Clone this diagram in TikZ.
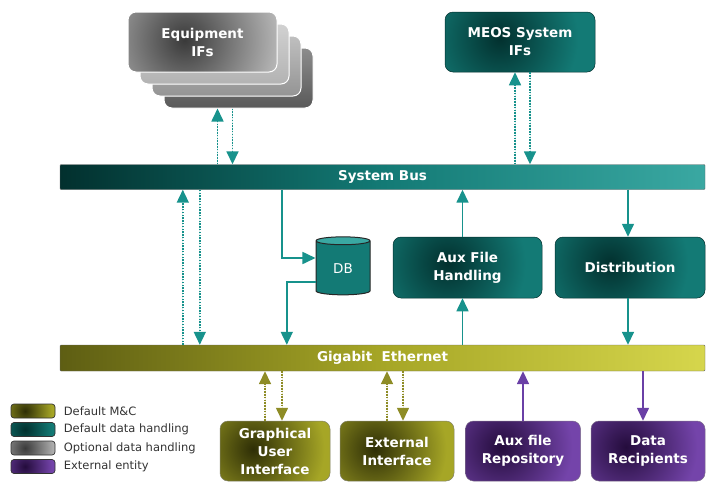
\documentclass[tikz,border=0pt]{standalone}
\usepackage{fontspec}
\setmainfont{DejaVu Sans}
\usepackage{tikz}
\usetikzlibrary{arrows.meta,positioning,calc,shapes.geometric}
\definecolor{mcTeal}{HTML}{137A75}
\definecolor{mcTealD}{HTML}{02302E}
\definecolor{mcTealL}{HTML}{3AA8A2}
\definecolor{mcTealA}{HTML}{17928C}
\definecolor{mcOlive}{HTML}{A6A626}
\definecolor{mcOliveD}{HTML}{2E2E06}
\definecolor{mcOliveL}{HTML}{D6D64C}
\definecolor{mcOliveA}{HTML}{8E8C26}
\definecolor{mcPurple}{HTML}{7444AA}
\definecolor{mcPurpleD}{HTML}{240C3C}
\definecolor{mcPurpleA}{HTML}{6A40A6}
\definecolor{mcGray}{HTML}{BDBDBD}
\definecolor{mcGrayD}{HTML}{3A3A3A}
\newcommand{\boxfont}{\bfseries\fontsize{13.5}{18}\selectfont}
% dark spot shadings, fading out well inside the circle
\pgfdeclareradialshading{tealspot}{\pgfpointorigin}{color(0bp)=(mcTealD); color(17bp)=(mcTeal); color(50bp)=(mcTeal)}
\pgfdeclareradialshading{olivespot}{\pgfpointorigin}{color(0bp)=(mcOliveD); color(17bp)=(mcOlive); color(50bp)=(mcOlive)}
\pgfdeclareradialshading{purplespot}{\pgfpointorigin}{color(0bp)=(mcPurpleD); color(17bp)=(mcPurple); color(50bp)=(mcPurple)}
\pgfdeclareradialshading{grayspot}{\pgfpointorigin}{color(0bp)=(mcGrayD); color(20bp)=(mcGray); color(50bp)=(mcGray)}
\tikzset{
  arrt/.style={-{Triangle[length=13pt,width=12pt]}, line width=1.6pt, draw=mcTealA, fill=mcTealA},
  arrtd/.style={arrt, dash pattern=on 1.5pt off 1.3pt},
  arro/.style={-{Triangle[length=13pt,width=12pt]}, line width=1.6pt, draw=mcOliveA, fill=mcOliveA, dash pattern=on 1.5pt off 1.3pt},
  arrp/.style={-{Triangle[length=13pt,width=12pt]}, line width=1.6pt, draw=mcPurpleA, fill=mcPurpleA},
  basebox/.style={rounded corners=8pt, align=center, text=white, font=\boxfont, line width=0.5pt, inner sep=3pt},
  tealbox/.style={basebox, draw=mcTealD, path picture={\shade[shading=tealspot] ([xshift=-20pt,yshift=4pt]path picture bounding box.center) circle (115pt);}},
  olivebox/.style={basebox, draw=mcOliveD!60, path picture={\shade[shading=olivespot] ([xshift=-22pt,yshift=2pt]path picture bounding box.center) circle (105pt);}},
  purplebox/.style={basebox, draw=mcPurpleD!60, path picture={\shade[shading=purplespot] ([xshift=-22pt,yshift=4pt]path picture bounding box.center) circle (105pt);}},
  graybox/.style={basebox, draw=white, line width=1pt, minimum width=149pt, minimum height=60pt, path picture={\shade[shading=grayspot] ([xshift=-18pt,yshift=2pt]path picture bounding box.center) circle (125pt);}},
  backbox/.style 2 args={graybox, path picture={\shade[top color=#1, bottom color=#2] (path picture bounding box.south west) rectangle (path picture bounding box.north east);}},
  busbar/.style={rounded corners=1pt, text=white, font=\boxfont, minimum width=645pt, draw=black!60, line width=0.4pt},
  swatch/.style={rounded corners=3pt, minimum width=44pt, minimum height=14pt, draw=black!80, line width=0.7pt, path picture={\shade[shading=#1] ([xshift=-8pt]path picture bounding box.center) circle (40pt);}},
  legtext/.style={anchor=west, font=\fontsize{11.5}{13}\selectfont, text=black!80}
}
\begin{document}
\begin{tikzpicture}[x=1pt,y=-1pt]
  \useasboundingbox (0,0) rectangle (707,483);

  % top interfaces
  \node[backbox={black!45}{black!65}] (eq4) at (238.5,78) {};
  \node[backbox={black!25}{black!42}] (eq3) at (226.5,66) {};
  \node[backbox={black!18}{black!30}] (eq2) at (214.5,54) {};
  \node[graybox] (eq1) at (202.5,42) {Equipment\\IFs};
  \node[tealbox, minimum width=150pt, minimum height=60pt] (meos) at (520,42) {MEOS System\\IFs};

  % buses
  \node[busbar, minimum height=25pt, left color=mcTealD, right color=mcTealL, middle color=mcTeal] (sysbus) at (382.5,177) {System Bus};
  \node[busbar, minimum height=26pt, left color=mcOliveD!60!mcOlive, right color=mcOliveL, middle color=mcOlive] (giga) at (382.5,358) {Gigabit\ \ Ethernet};

  \draw[arrtd] ([xshift=-21pt]eq4.south |- sysbus.north) -- ([xshift=-21pt]eq4.south);
  \draw[arrtd] ([xshift=-6pt]eq4.south) -- ([xshift=-6pt]eq4.south |- sysbus.north);
  \draw[arrtd] ([xshift=-5pt]meos.south |- sysbus.north) -- ([xshift=-5pt]meos.south);
  \draw[arrtd] ([xshift=10pt]meos.south) -- ([xshift=10pt]meos.south |- sysbus.north);

  % data handling
  \node[cylinder, shape border rotate=90, aspect=0.3, minimum width=54pt, minimum height=58pt, draw=black!85, line width=1pt, cylinder uses custom fill, cylinder body fill=mcTeal, cylinder end fill=mcTealL, text=white, font=\fontsize{13.5}{16}\selectfont] (db) at (343,269) {DB};
  \node[tealbox, minimum width=149pt, minimum height=61pt] (auxh) at (467.5,267.5) {Aux File\\Handling};
  \node[tealbox, minimum width=150pt, minimum height=61pt] (dist) at (630,267.5) {Distribution};

  \draw[arrtd] ([xshift=123pt]giga.north west) -- ([xshift=123pt]sysbus.south west);
  \draw[arrtd] ([xshift=140pt]sysbus.south west) -- ([xshift=140pt]giga.north west);
  \draw[arrt, fill=none] ([xshift=222pt]sysbus.south west) |- ([yshift=11pt]db.west);
  \draw[arrt, fill=none] ([yshift=-13pt]db.west) -| ([xshift=227pt]giga.north west);
  \draw[arrt] ([xshift=-5pt]auxh.north) -- ([xshift=-5pt]auxh.north |- sysbus.south);
  \draw[arrt] ([xshift=-5pt]auxh.south |- giga.north) -- ([xshift=-5pt]auxh.south);
  \draw[arrt] ([xshift=-2pt]dist.north |- sysbus.south) -- ([xshift=-2pt]dist.north);
  \draw[arrt] ([xshift=-2pt]dist.south) -- ([xshift=-2pt]dist.south |- giga.north);

  % external side
  \node[olivebox, minimum width=110pt, minimum height=60pt] (gui) at (275,451) {Graphical\\User\\Interface};
  \node[olivebox, minimum width=114pt, minimum height=60pt] (ext) at (397,451) {External\\Interface};
  \node[purplebox, minimum width=115pt, minimum height=60pt] (auxr) at (523,451) {Aux file\\Repository};
  \node[purplebox, minimum width=114pt, minimum height=60pt] (datar) at (648,451) {Data\\Recipients};

  \draw[arro] ([xshift=-10pt]gui.north) -- ([xshift=-10pt]gui.north |- giga.south);
  \draw[arro] ([xshift=7pt]gui.north |- giga.south) -- ([xshift=7pt]gui.north);
  \draw[arro] ([xshift=-10pt]ext.north) -- ([xshift=-10pt]ext.north |- giga.south);
  \draw[arro] ([xshift=6pt]ext.north |- giga.south) -- ([xshift=6pt]ext.north);
  \draw[arrp] (auxr.north) -- (auxr.north |- giga.south);
  \draw[arrp] ([xshift=-5pt]datar.north |- giga.south) -- ([xshift=-5pt]datar.north);

  % legend
  \node[swatch=olivespot] (lg1) at (33,411) {};
  \node[swatch=tealspot] (lg2) at (33,429.5) {};
  \node[swatch=grayspot] (lg3) at (33,448) {};
  \node[swatch=purplespot] (lg4) at (33,466.5) {};
  \node[legtext] at ([xshift=5pt]lg1.east) {Default M\&C};
  \node[legtext] at ([xshift=5pt]lg2.east) {Default data handling};
  \node[legtext] at ([xshift=5pt]lg3.east) {Optional data handling};
  \node[legtext] at ([xshift=5pt]lg4.east) {External entity};
\end{tikzpicture}
\end{document}
